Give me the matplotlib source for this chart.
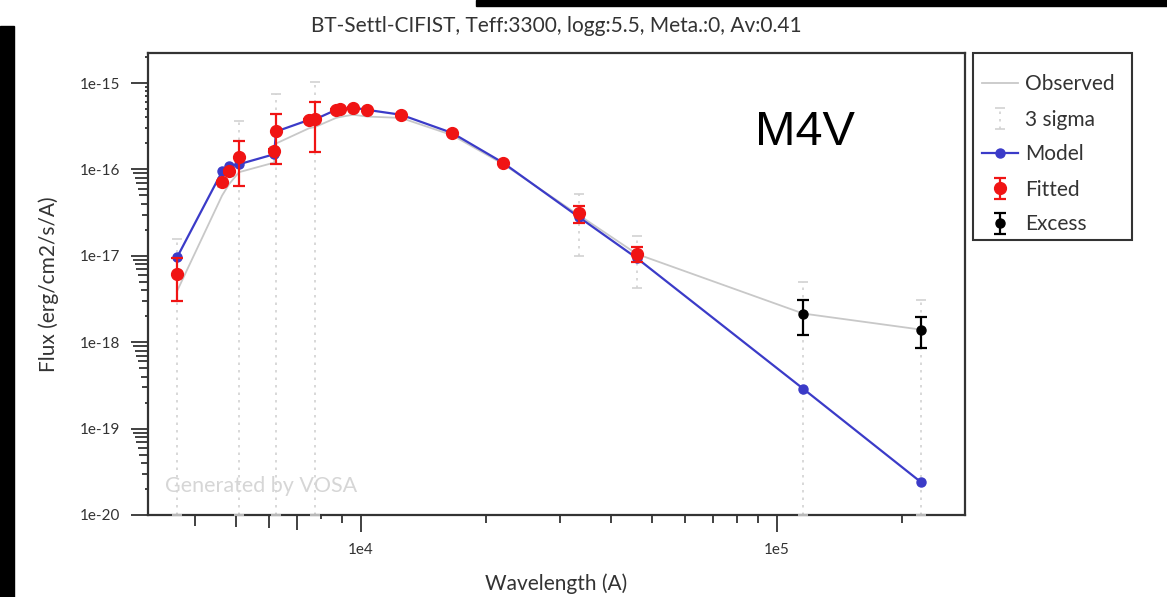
import numpy as np
import matplotlib
matplotlib.use("Agg")
import matplotlib.pyplot as plt
from matplotlib.patches import Rectangle
from matplotlib.ticker import FixedLocator, FixedFormatter, LogLocator, NullFormatter

# ---------------- data ----------------
title = "BT-Settl-CIFIST, Teff:3300, logg:5.5, Meta.:0, Av:0.41"
spectral_type = "M4V"

wavelength = [3612, 4636, 4822, 5091, 6181, 6250, 7500, 7750, 8707, 8903, 9567,
              10340, 12480, 16550, 21930, 33430, 46040, 115500, 221800]
flux_obs = [3.9e-18, 5.0e-17, 6.8e-17, 9.3e-17, 1.2e-16, 2.0e-16, 3.0e-16, 3.1e-16,
            3.95e-16, 4.05e-16, 4.3e-16, 4.1e-16, 3.95e-16, 2.5e-16, 1.16e-16,
            2.95e-17, 1.05e-17, 2.15e-18, 1.4e-18]
flux_fit = [6.2e-18, 7.1e-17, 9.5e-17, 1.39e-16, 1.65e-16, 2.77e-16, 3.75e-16, 3.8e-16,
            4.9e-16, 5.0e-16, 5.2e-16, 4.9e-16, 4.3e-16, 2.65e-16, 1.2e-16,
            3.1e-17, 1.06e-17, 2.15e-18, 1.4e-18]
flux_model = [9.6e-18, 9.5e-17, 1.09e-16, 1.15e-16, 1.5e-16, 2.75e-16, 3.75e-16, 3.8e-16,
              4.9e-16, 5.0e-16, 5.2e-16, 4.9e-16, 4.3e-16, 2.65e-16, 1.2e-16,
              2.8e-17, 9.4e-18, 2.9e-19, 2.4e-20]
flux_err = [3.2e-18, 3e-18, 4e-18, 7.5e-17, 6e-18, 1.6e-16, 8e-18, 2.2e-16,
            1e-17, 1e-17, 1e-17, 1e-17, 9e-18, 6e-18, 3e-18,
            7e-18, 2.1e-18, 9.5e-19, 5.5e-19]
excess = [False] * 17 + [True] * 2

ytick_values = [1e-20, 1e-19, 1e-18, 1e-17, 1e-16, 1e-15]
ytick_labels = ["1e-20", "1e-19", "1e-18", "1e-17", "1e-16", "1e-15"]
xtick_values = [1e4, 1e5]
xtick_labels = ["1e4", "1e5"]
legend_labels = ["Observed", "3 sigma", "Model", "Fitted", "Excess"]

# ---------------- style ----------------
FONT = ["Lato", "DejaVu Sans"]
plt.rcParams["font.family"] = FONT
W, H = 1167, 597
fig = plt.figure(figsize=(W / 100, H / 100), dpi=100)
ax = fig.add_axes([148 / W, 1 - 515 / H, (965 - 148) / W, (515 - 53) / H])
ax.set_xscale("log")
ax.set_yscale("log")
XMIN, XMAX = 3076, 283000
YMIN, YMAX = 1e-20, 2.23e-15
ax.set_xlim(XMIN, XMAX)
ax.set_ylim(YMIN, YMAX)

wl = np.array(wavelength)
fo = np.array(flux_obs)
ff = np.array(flux_fit)
fm = np.array(flux_model)
fe = np.array(flux_err)
ex = np.array(excess)

GREY = "#c8c8c8"
BLUE = "#3b3bc8"
RED = "#f01414"

# 3 sigma bars (dotted), lower limit clipped at axis bottom
low3 = np.where(ff - 3 * fe > YMIN, 3 * fe, ff - YMIN)
sig = ax.errorbar(wl, ff, yerr=[low3, 3 * fe], fmt="none", ecolor="#d2d2d2",
                  elinewidth=1.2, capsize=3.5, capthick=1.2, zorder=1)
for bl in sig[2]:
    bl.set_linestyle((0, (1.5, 3)))
for cl in sig[1]:
    cl.set_clip_on(False)
    cl.set_zorder(3)

obs_line, = ax.plot(wl, fo, color=GREY, lw=1.3, zorder=2)
mod_line, = ax.plot(wl, fm, color=BLUE, lw=1.6, marker="o", ms=6.5, zorder=3)
fit = ax.errorbar(wl[~ex], ff[~ex], yerr=fe[~ex], fmt="o", color=RED, ms=8.5,
                  elinewidth=1.6, capsize=4.5, capthick=1.6, zorder=4)
exc = ax.errorbar(wl[ex], ff[ex], yerr=fe[ex], fmt="o", color="black", ms=6.5,
                  elinewidth=1.6, capsize=4.5, capthick=1.6, zorder=4)

# ---------------- axes ----------------
for s in ax.spines.values():
    s.set_color("#333333")
    s.set_linewidth(1.6)

PX = 72 / 100.0  # points per pixel
len_major = 17
len_minor = {2: 3.5, 3: 6, 4: 7.5, 5: 9, 6: 10.5, 7: 12, 8: 13.5, 9: 15}

ax.yaxis.set_major_locator(FixedLocator(ytick_values))
ax.yaxis.set_major_formatter(FixedFormatter(ytick_labels))
ax.yaxis.set_minor_locator(LogLocator(base=10, subs=np.arange(2, 10), numticks=50))
ax.yaxis.set_minor_formatter(NullFormatter())
ax.xaxis.set_major_locator(FixedLocator(xtick_values))
ax.xaxis.set_major_formatter(FixedFormatter(xtick_labels))
ax.xaxis.set_minor_locator(LogLocator(base=10, subs=np.arange(2, 10), numticks=50))
ax.xaxis.set_minor_formatter(NullFormatter())

ax.tick_params(which="both", direction="out", color="#333333", width=1.3,
               top=False, right=False)
ax.tick_params(which="major", length=len_major * PX, labelsize=11,
               labelcolor="#333333")
ax.tick_params(axis="y", which="major", pad=8)
ax.tick_params(axis="x", which="major", pad=8)

for axis, lo, hi in ((ax.yaxis, YMIN, YMAX), (ax.xaxis, XMIN, XMAX)):
    locs = [v for v in axis.get_minor_locator().tick_values(lo, hi) if lo <= v <= hi]
    ticks = axis.get_minor_ticks(len(locs))
    for t, v in zip(ticks, locs):
        k = int(round(v / 10 ** np.floor(np.log10(v) + 1e-9)))
        t.tick1line.set_markersize(len_minor.get(k, 5) * PX)
        t.tick1line.set_markeredgewidth(1.3)

ax.set_xlabel("Wavelength (A)", fontsize=15, color="#333333", labelpad=12)
ax.set_ylabel("Flux (erg/cm2/s/A)", fontsize=15, color="#333333", labelpad=15)
ax.set_title(title, fontsize=15, color="#333333", pad=15)

ax.text(0.021, 0.063, "Generated by VOSA", transform=ax.transAxes, fontsize=15.5,
        color="#d6d6d6", va="center", ha="left")
ax.text(0.743, 0.80, spectral_type, transform=ax.transAxes, fontsize=35,
        family=["Liberation Sans", "DejaVu Sans"], color="black",
        ha="left", va="baseline")

# legend (frame drawn separately for exact placement)
leg_fs = 15
leg = fig.legend(handles=[obs_line, sig, mod_line, fit, exc], labels=legend_labels,
                 loc="upper left", bbox_to_anchor=(982 / W, 1 - 74.5 / H),
                 borderaxespad=0, borderpad=0, frameon=False, fontsize=leg_fs,
                 handlelength=1.73, labelspacing=0.72, handletextpad=0.34,
                 labelcolor="#333333")
fig.patches.append(Rectangle((973 / W, 1 - 240 / H), 159 / W, 187 / H,
                             transform=fig.transFigure, fill=False,
                             edgecolor="#333333", linewidth=1.5, zorder=5))

# black border bars from the original screenshot
fig.patches.append(Rectangle((0, 0), 14 / W, 1 - 26 / H, transform=fig.transFigure,
                             color="black", zorder=10))
fig.patches.append(Rectangle((476 / W, 1 - 6 / H), 1 - 476 / W, 6 / H,
                             transform=fig.transFigure, color="black", zorder=10))

fig.savefig("out.png", dpi=100)
